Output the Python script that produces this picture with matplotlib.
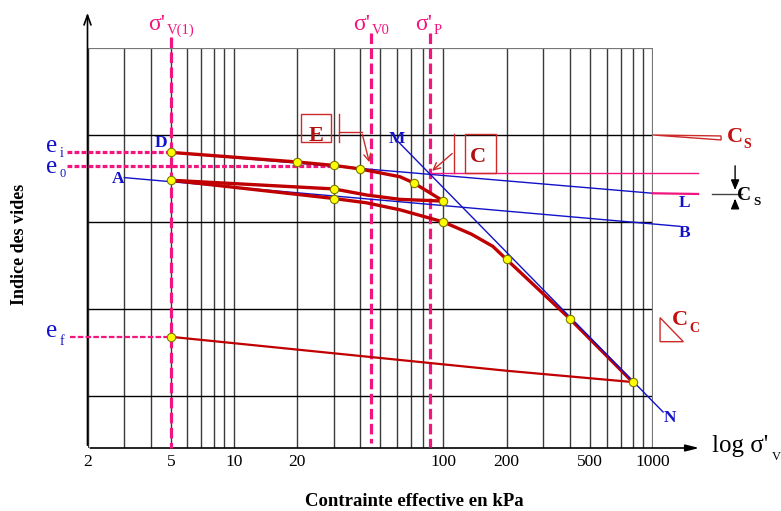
import matplotlib
matplotlib.use('Agg')
import matplotlib.pyplot as plt
from matplotlib.patches import Rectangle, Polygon

plt.rcParams['font.family'] = ['Liberation Serif', 'DejaVu Serif']

# grid of the log chart (kPa / void ratio)
grid_major = [2, 10, 20, 100, 200, 1000]
grid_minor = [3, 4, 5, 6, 7, 8, 9, 30, 40, 50, 60, 70, 80, 300, 400, 500, 600, 700, 800, 900]
e_grid = [0.6, 0.7, 0.8, 0.9]
tick_vals = [2, 5, 10, 20, 100, 200, 500, 1000]
tick_labels = ['2', '5', '10', '20', '100', '200', '500', '1000']

# oedometer curve (red)
load1_s = [5, 20, 30, 40, 51, 62, 72, 100]
load1_e = [0.880, 0.869, 0.865, 0.861, 0.856, 0.852, 0.845, 0.824]
unload1_s = [100, 62, 43, 30, 5]
unload1_e = [0.824, 0.826, 0.831, 0.838, 0.848]
reload_s = [5, 30, 43, 62, 100, 136, 172, 200, 400, 800]
reload_e = [0.848, 0.827, 0.822, 0.814, 0.800, 0.786, 0.772, 0.757, 0.689, 0.616]
unload2_s = [800, 200, 5]
unload2_e = [0.616, 0.629, 0.668]

# measured points (yellow)
pts_s = [5, 20, 30, 40, 72, 100, 30, 5, 30, 100, 200, 400, 800, 5]
pts_e = [0.880, 0.869, 0.865, 0.861, 0.845, 0.824, 0.838, 0.848, 0.827, 0.800, 0.757, 0.689, 0.616, 0.668]

# construction lines (blue)
ab_s, ab_e = [3.0, 1346], [0.851, 0.795]
dl_s, dl_e = [5, 1000], [0.880, 0.833]
mn_s, mn_e = [60.7, 1117], [0.8925, 0.5816]

# characteristic values
sig_v1, sig_v0, sig_p = 5, 45, 86
e_i, e_0, e_f = 0.880, 0.864, 0.668

e_top, e_bot = 1.0, 0.5402

RED = '#c00000'
BLUE = '#1212c8'
PINK = '#f2157f'
BOXRED = '#cc2a2a'

fig = plt.figure(figsize=(7.81, 5.11), dpi=100)
ax = fig.add_axes([87.5 / 781, 63 / 511, 565.5 / 781, 400 / 511])
ax.set_xscale('log')
ax.set_xlim(2, 1000)
ax.set_ylim(e_bot, e_top)
for sp in ax.spines.values():
    sp.set_visible(False)
ax.set_yticks([])
ax.minorticks_off()
ax.set_xticks(tick_vals)
ax.set_xticklabels(tick_labels, fontsize=12.5)
ax.tick_params(axis='x', length=0, pad=4)

# grid
ax.vlines(grid_major + grid_minor, e_bot, e_top, colors='#3a3a3a', lw=1.0, zorder=1)
ax.hlines(e_grid, 2, 1000, colors='black', lw=1.0, zorder=1)
ax.hlines(e_top, 2, 1000, colors='#777777', lw=1.6, zorder=1)
ax.vlines(1000, e_bot, e_top, colors='#777777', lw=1.6, zorder=1)

# axes with arrows
ax.annotate('', xy=(2, 1.0437), xytext=(2, e_bot), annotation_clip=False,
            arrowprops=dict(arrowstyle='->,head_length=0.7,head_width=0.25', color='black', lw=1.2))
ax.annotate('', xy=(1715, e_bot), xytext=(2, e_bot), annotation_clip=False,
            arrowprops=dict(arrowstyle='-|>,head_length=0.8,head_width=0.2', color='black', lw=1.2))

# dashed reference lines
dash_kw = dict(color=PINK, lw=2.3, dashes=(3.3, 1.4), clip_on=False, zorder=3)
ax.plot([sig_v1, sig_v1], [1.0126, e_bot], **dash_kw)
ax.plot([sig_v0, sig_v0], [1.017, 0.546], **dash_kw)
ax.plot([sig_p, sig_p], [1.017, 0.541], **dash_kw)
ax.plot([1.59, sig_v1], [e_i, e_i], color=PINK, lw=2.3, dashes=(1.5, 0.7), clip_on=False, zorder=3)
ax.plot([1.59, 30], [e_0, e_0], color=PINK, lw=2.3, dashes=(1.5, 0.7), clip_on=False, zorder=3)
ax.plot([1.65, sig_v1], [e_f, e_f], color=PINK, lw=1.6, dashes=(2.5, 1.0), clip_on=False, zorder=3)

# blue construction lines
ax.plot(ab_s, ab_e, color=BLUE, lw=1.0, clip_on=False, zorder=4)
ax.plot(dl_s, dl_e, color=BLUE, lw=1.0, clip_on=False, zorder=4)
ax.plot(mn_s, mn_e, color=BLUE, lw=1.0, clip_on=False, zorder=6)
ax.plot([1000, 1641], [0.833, 0.8322], color=PINK, lw=1.6, clip_on=False, zorder=4)
ax.plot([sig_p, 1641], [0.856, 0.856], color=PINK, lw=1.0, clip_on=False, zorder=4)

# red curves
ax.plot(load1_s, load1_e, color=RED, lw=2.4, zorder=5, solid_capstyle='round')
ax.plot(unload1_s, unload1_e, color=RED, lw=2.4, zorder=5, solid_capstyle='round')
ax.plot(reload_s, reload_e, color=RED, lw=2.4, zorder=5, solid_capstyle='round')
ax.plot(unload2_s, unload2_e, color=RED, lw=1.6, zorder=5, solid_capstyle='round')

ax.plot(pts_s, pts_e, 'o', ms=6, mfc='#ffff00', mec='#7a7a00', mew=0.8, zorder=7, clip_on=False)


def txt(x, y, s, size, color, weight='normal', ha='left'):
    ax.text(x, y, s, fontsize=size, color=color, fontweight=weight, ha=ha, va='baseline',
            clip_on=False, zorder=8)


# point letters
for x, y, s in [(4.20, 0.8862, 'D'), (2.62, 0.8448, 'A'), (54.97, 0.8908, 'M'),
                (1332, 0.8172, 'L'), (1332, 0.7828, 'B'), (1129, 0.5701, 'N')]:
    txt(x, y, s, 12.5, BLUE, 'bold')

# void ratio labels
txt(1.267, 0.8808, 'e', 18, BLUE)
txt(1.47, 0.8744, 'i', 10, BLUE)
txt(1.267, 0.856, 'e', 18, BLUE)
txt(1.47, 0.8514, '0', 9, BLUE)
txt(1.267, 0.6682, 'e', 18, BLUE)
txt(1.478, 0.6586, 'f', 10, BLUE)

# stress labels
for xm, xs, sub in [(3.89, 4.79, 'V(1)'), (37.0, 45.6, 'V0'), (73.1, 90.2, 'P')]:
    txt(xm, 1.0207, "σ'", 17, PINK)
    txt(xs, 1.0161, sub, 10.5, PINK)

txt(1915, 0.5356, "log σ'", 18, 'black')
txt(3700, 0.5264, 'V', 9, 'black')

# E box
ax.add_patch(Rectangle((20.8, 0.8923), 29.0 - 20.8, 0.9238 - 0.8923, fill=False,
                       ec=BOXRED, lw=1.0, clip_on=False, zorder=8))
txt(24.6, 0.8934, 'E', 16, '#b01010', 'bold', ha='center')
ax.plot([31.7, 31.7], [0.9238, 0.8923], color=BOXRED, lw=1.0, clip_on=False)
ax.plot([31.7, 40.7], [0.9038, 0.9038], color=BOXRED, lw=1.0, clip_on=False)
ax.annotate('', xy=(44.6, 0.8655), xytext=(40.7, 0.9038), annotation_clip=False,
            arrowprops=dict(arrowstyle='->,head_length=0.5,head_width=0.25', color=BOXRED, lw=1.0))

# C box
ax.add_patch(Rectangle((126.8, 0.856), 177.7 - 126.8, 0.9008 - 0.856, fill=False,
                       ec=BOXRED, lw=1.0, clip_on=False, zorder=8))
txt(145.4, 0.8693, 'C', 16, '#b01010', 'bold', ha='center')
ax.plot([112.6, 112.6], [0.9008, 0.856], color=BOXRED, lw=1.0, clip_on=False)
ax.annotate('', xy=(86.3, 0.8567), xytext=(112.6, 0.8808), annotation_clip=False,
            arrowprops=dict(arrowstyle='->,head_length=0.5,head_width=0.25', color=BOXRED, lw=1.0))

# Cs slope symbol (red)
ax.add_patch(Polygon([(1000, 0.9), (2113, 0.8989), (2113, 0.8943)], closed=True, fill=False,
                     ec=BOXRED, lw=1.0, clip_on=False))
txt(2250, 0.8923, 'C', 16, '#c41010', 'bold')
txt(2700, 0.8847, 'S', 10, '#c41010', 'bold')

# Cc slope symbol (red)
ax.add_patch(Polygon([(1080.7, 0.69), (1080.7, 0.6624), (1396, 0.6624)], closed=True, fill=False,
                     ec=BOXRED, lw=1.0, clip_on=False))
txt(1233, 0.6816, 'C', 16, '#c41010', 'bold')
txt(1486, 0.6736, 'C', 10, '#c41010', 'bold')

# Cs swelling symbol (black)
ax.plot([1915, 2661], [0.8318, 0.8318], color='#444444', lw=1.0, clip_on=False)
ax.annotate('', xy=(2465, 0.8335), xytext=(2465, 0.8678), annotation_clip=False,
            arrowprops=dict(arrowstyle='-|>,head_length=0.6,head_width=0.25', color='black', lw=1.0))
ax.annotate('', xy=(2465, 0.830), xytext=(2465, 0.8195), annotation_clip=False,
            arrowprops=dict(arrowstyle='-|>,head_length=0.6,head_width=0.25', color='black', lw=1.0))
txt(2512, 0.8253, 'C', 14, 'black', 'bold')
txt(3004, 0.8195, 'S', 9.5, 'black', 'bold')

# axis titles
fig.text(20 / 781, 1 - 244 / 511, 'Indice des vides', rotation=90, fontsize=13,
         fontweight='bold', ha='center', va='center')
fig.text(414 / 781, 1 - 501 / 511, 'Contrainte effective en kPa', fontsize=13.5,
         fontweight='bold', ha='center', va='center')

fig.savefig('out.png', dpi=100)
